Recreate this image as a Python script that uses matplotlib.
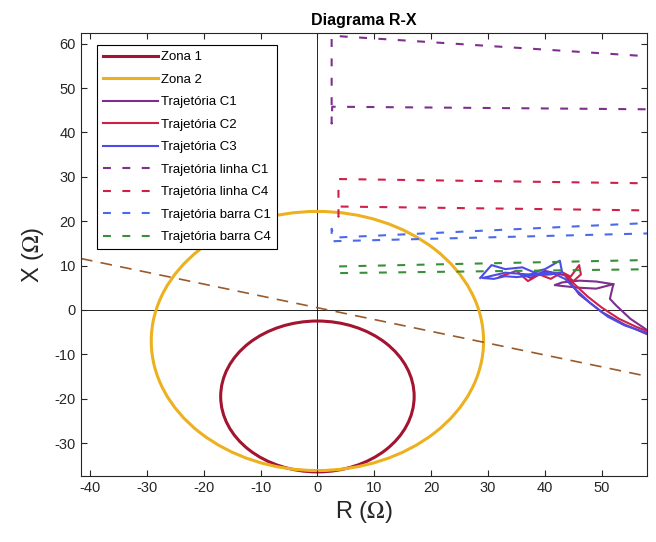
import numpy as np
import matplotlib
matplotlib.use('Agg')
import matplotlib.pyplot as plt
from matplotlib.patches import Circle
from matplotlib.lines import Line2D

# zonas mho (centro R, centro X, raio)
zona1 = (0.0, -19.5, 17.0)
zona2 = (0.0, -7.0, 29.2)

# reta tracejada (blinder)
blinder_R = [-45, 60]
blinder_X = [12.5, -15.5]

# trajetorias solidas
c1_R = [36, 37.5, 40, 43.5, 46, 50, 54, 58, 60, 58, 55, 52.5, 51.4, 52, 49, 46, 43, 41.7, 43, 46, 49, 52]
c1_X = [8.0, 7.2, 8.8, 7.8, 3.5, -0.5, -3.3, -5.5, -6.0, -4.6, -2.0, 1.0, 2.5, 5.8, 4.8, 5.0, 5.4, 5.6, 6.2, 6.6, 6.4, 5.8]
c2_R = [32, 35, 37, 39, 41, 43, 44.5, 46, 46.3, 45, 43.5, 45, 47.5, 50, 53, 56, 58, 60]
c2_X = [7.5, 8.8, 6.5, 8.0, 7.0, 8.5, 7.5, 10.1, 8.0, 6.5, 8.0, 6.0, 3.0, 0.5, -2.0, -3.8, -4.8, -5.5]
c3_R = [28.6, 30.6, 33, 36, 38, 40, 42.6, 43.0, 41, 38, 35, 33, 31, 29, 33, 37, 41, 43.5, 45.5, 48, 51, 54, 58, 60]
c3_X = [7.2, 10.1, 9.2, 9.6, 8.5, 9.2, 11.1, 8.5, 8.0, 7.8, 7.4, 7.6, 7.0, 7.2, 8.4, 8.0, 8.5, 7.0, 4.5, 1.5, -1.5, -3.5, -5.2, -5.8]

# trajetorias tracejadas
linha_c1_R = [60, 2.5, 2.5, 2.6, 60]
linha_c1_X = [57.0, 61.8, 42.0, 45.8, 45.2]
linha_c4_R = [60, 3.7, 3.7, 3.8, 60]
linha_c4_X = [28.5, 29.5, 21.0, 23.3, 22.4]
barra_c1_R = [60, 3.0, 2.5, 2.5, 3.0, 60]
barra_c1_X = [19.7, 16.3, 18.3, 15.1, 15.5, 17.3]
barra_c4_R = [60, 3.5, 3.4, 3.5, 60]
barra_c4_X = [11.3, 9.8, 8.6, 8.3, 9.2]

labels = ['Zona 1', 'Zona 2', 'Trajetória C1', 'Trajetória C2', 'Trajetória C3',
          'Trajetória linha C1', 'Trajetória linha C4', 'Trajetória barra C1', 'Trajetória barra C4']

col_z1 = '#A2142F'
col_z2 = '#EDB120'
col_pur = '#7E2F8E'
col_red = '#D0204A'
col_blue = '#4B4BE8'
col_bblue = '#4A6AE8'
col_green = '#3A8F3A'

plt.rcParams['font.family'] = ['Liberation Sans', 'DejaVu Sans']
plt.rcParams['mathtext.fontset'] = 'stix'
plt.rcParams['axes.unicode_minus'] = False

fig = plt.figure(figsize=(6.56, 5.42), dpi=100)
ax = fig.add_axes([0.123, 0.122, 0.864, 0.817])

ax.axhline(0, color='k', lw=0.6, zorder=1)
ax.axvline(0, color='k', lw=0.6, zorder=1)

ax.plot(blinder_R, blinder_X, '--', color='#9A5A2A', lw=1.2, dashes=(7, 5))

ax.add_patch(Circle(zona1[:2], zona1[2], fill=False, ec=col_z1, lw=2.2))
ax.add_patch(Circle(zona2[:2], zona2[2], fill=False, ec=col_z2, lw=2.2))

ax.plot(c1_R, c1_X, color=col_pur, lw=1.5)
ax.plot(c2_R, c2_X, color=col_red, lw=1.5)
ax.plot(c3_R, c3_X, color=col_blue, lw=1.5)

dsh = (3.8, 5.5)
ax.plot(linha_c1_R, linha_c1_X, '--', color=col_pur, lw=1.5, dashes=dsh)
ax.plot(linha_c4_R, linha_c4_X, '--', color=col_red, lw=1.5, dashes=dsh)
ax.plot(barra_c1_R, barra_c1_X, '--', color=col_bblue, lw=1.5, dashes=dsh)
ax.plot(barra_c4_R, barra_c4_X, '--', color=col_green, lw=1.5, dashes=dsh)

handles = [Line2D([], [], color=col_z1, lw=2.2),
           Line2D([], [], color=col_z2, lw=2.2),
           Line2D([], [], color=col_pur, lw=1.5),
           Line2D([], [], color=col_red, lw=1.5),
           Line2D([], [], color=col_blue, lw=1.5),
           Line2D([], [], color=col_pur, lw=1.5, ls='--', dashes=dsh),
           Line2D([], [], color=col_red, lw=1.5, ls='--', dashes=dsh),
           Line2D([], [], color=col_bblue, lw=1.5, ls='--', dashes=dsh),
           Line2D([], [], color=col_green, lw=1.5, ls='--', dashes=dsh)]
leg = ax.legend(handles, labels, loc='upper left', bbox_to_anchor=(0.029, 0.973),
                fontsize=9.5, handlelength=4.2, handletextpad=0.2, labelspacing=0.78,
                borderpad=0.45, borderaxespad=0, fancybox=False, framealpha=1)
leg.get_frame().set_edgecolor('k')
leg.get_frame().set_linewidth(0.8)

ax.set_xlim(-41.6, 58)
ax.set_ylim(-37.4, 62.4)
ax.set_xticks(np.arange(-40, 51, 10))
ax.set_yticks(np.arange(-30, 61, 10))
ax.tick_params(direction='in', top=True, right=True, labelsize=10.5, colors='#262626', length=4)
for s in ax.spines.values():
    s.set_color('#262626')
    s.set_linewidth(0.8)

ax.set_xlabel(r'R ($\Omega$)', fontsize=17, color='#262626', labelpad=3)
ax.set_ylabel(r'X ($\Omega$)', fontsize=17, color='#262626', labelpad=6)
ax.set_title('Diagrama R-X', fontsize=11.5, fontweight='bold', pad=6)

fig.savefig('out.png', dpi=100)
